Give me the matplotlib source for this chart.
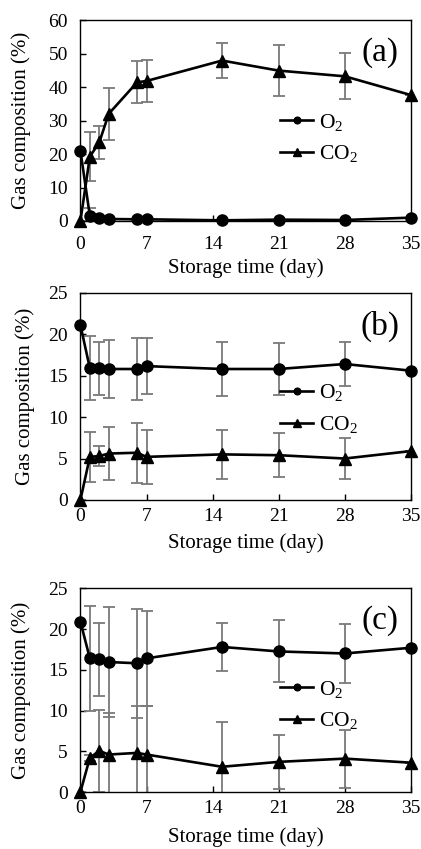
import matplotlib
matplotlib.use('Agg')
import matplotlib.pyplot as plt

plt.rcParams['font.family'] = ['Liberation Serif', 'DejaVu Serif']
plt.rcParams['mathtext.fontset'] = 'custom'
plt.rcParams['mathtext.rm'] = 'Liberation Serif'
plt.rcParams['mathtext.it'] = 'Liberation Serif:italic'

# storage time (day)
days = [0, 1, 2, 3, 6, 7, 15, 21, 28, 35]

# panel (a)
o2_a = [21.0, 1.5, 0.8, 0.6, 0.5, 0.5, 0.2, 0.4, 0.3, 1.0]
o2_a_err = [0, 2.5, 0, 0, 0, 0, 0, 0, 0, 0]
co2_a = [0, 19.2, 23.5, 32.0, 41.4, 41.8, 47.9, 44.9, 43.2, 37.6]
co2_a_err = [0, 7.3, 5.0, 7.7, 6.3, 6.3, 5.1, 7.7, 6.9, 0]

# panel (b)
o2_b = [21.1, 15.9, 15.9, 15.8, 15.8, 16.15, 15.8, 15.8, 16.4, 15.6]
o2_b_err = [0, 3.85, 3.2, 3.45, 3.7, 3.4, 3.3, 3.1, 2.6, 0]
co2_b = [0, 5.2, 5.3, 5.6, 5.7, 5.2, 5.5, 5.4, 5.0, 5.9]
co2_b_err = [0, 3.0, 1.2, 3.2, 3.6, 3.3, 3.0, 2.65, 2.5, 0]

# panel (c)
o2_c = [20.9, 16.4, 16.3, 15.95, 15.8, 16.4, 17.8, 17.25, 17.0, 17.7]
o2_c_err = [0, 6.45, 4.5, 6.8, 6.7, 5.8, 3.0, 3.8, 3.65, 0]
co2_c = [0, 4.2, 5.05, 4.6, 4.8, 4.6, 3.1, 3.7, 4.1, 3.6]
co2_c_err = [0, 0.4, 5.0, 5.1, 5.8, 6.0, 5.45, 3.35, 3.55, 0]

panels = [
    ('(a)', o2_a, o2_a_err, co2_a, co2_a_err, 60, 10),
    ('(b)', o2_b, o2_b_err, co2_b, co2_b_err, 25, 5),
    ('(c)', o2_c, o2_c_err, co2_c, co2_c_err, 25, 5),
]

# axes boxes in figure fractions [left, bottom, width, height]
boxes = [
    [0.191, 0.7397, 0.785, 0.2367],
    [0.191, 0.4111, 0.785, 0.2441],
    [0.191, 0.0671, 0.785, 0.2400],
]
xpads = [10.5, 6, 6]
xlab_y = [-0.234, -0.207, -0.219]
ylab_x = [-0.18, -0.168, -0.18]
leg_y = [0.413, 0.44, 0.427]

fig = plt.figure(figsize=(4.21, 8.49), dpi=100)

for i, (tag, o2, o2e, co2, co2e, ymax, ystep) in enumerate(panels):
    ax = fig.add_axes(boxes[i])
    ax.errorbar(days, o2, yerr=o2e, fmt='none', ecolor='#7a7a7a',
                elinewidth=1.3, capsize=4, capthick=1.3, zorder=2)
    ax.errorbar(days, co2, yerr=co2e, fmt='none', ecolor='#7a7a7a',
                elinewidth=1.3, capsize=4, capthick=1.3, zorder=2)
    ax.plot(days, o2, '-o', color='black', lw=1.9, ms=8, label='O$_2$',
            clip_on=False, zorder=3)
    ax.plot(days, co2, '-^', color='black', lw=1.9, ms=8.5, label='CO$_2$',
            clip_on=False, zorder=3)

    ax.set_xlim(0, 35)
    ax.set_ylim(0, ymax)
    ax.set_xticks(range(0, 36, 7))
    ax.set_yticks(range(0, ymax + 1, ystep))
    ax.tick_params(axis='both', direction='in', length=4, width=1,
                   labelsize=14)
    ax.tick_params(axis='x', pad=xpads[i])
    ax.tick_params(axis='y', pad=9)
    for s in ax.spines.values():
        s.set_linewidth(1.0)

    ax.set_xlabel('Storage time (day)', fontsize=15)
    ax.xaxis.label.set_va('center')
    ax.xaxis.set_label_coords(0.5, xlab_y[i])
    ax.set_ylabel('Gas composition (%)', fontsize=15)
    ax.yaxis.label.set_va('center')
    ax.yaxis.set_label_coords(ylab_x[i], 0.5)

    ax.text(0.906, 0.84, tag, transform=ax.transAxes, fontsize=24,
            ha='center', va='center')

    ax.legend(loc='center left', bbox_to_anchor=(0.605, leg_y[i]),
              frameon=False, fontsize=15.5, markerscale=0.6,
              handlelength=1.5, handletextpad=0.3, labelspacing=0.5,
              borderpad=0, borderaxespad=0)

fig.savefig('out.png', dpi=100)
